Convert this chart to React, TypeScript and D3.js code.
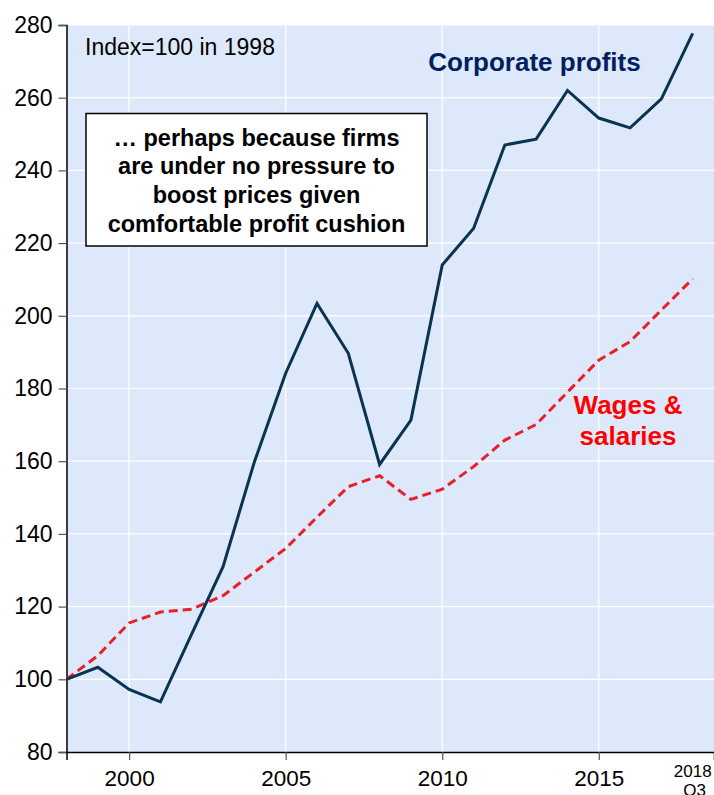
import { useRef, useEffect } from "react";
import { select, line, scaleLinear, axisBottom, axisLeft, range } from "d3";

const years = range(1998, 2019);
const profits = [
  100, 103.3, 97.2, 93.8, 112.5, 131, 159.8, 184.2, 203.4, 189.7, 159.1,
  171.3, 214, 224, 247, 248.6, 262, 254.4, 251.7, 259.7, 277.7,
];
const wages = [
  100, 106.5, 115.5, 118.5, 119.3, 123, 129.5, 136, 144.6, 153, 156,
  149.5, 152.3, 158.5, 165.8, 170.1, 179, 187.8, 192.9, 201.6, 210.2,
];
const yTicks = [80, 100, 120, 140, 160, 180, 200, 220, 240, 260, 280];
const xTicks = [2000, 2005, 2010, 2015];
const note = [
  "… perhaps because firms",
  "are under no pressure to",
  "boost prices given",
  "comfortable profit cushion",
];

const FONT = "Liberation Sans, Arial, sans-serif";

export default function App() {
  const ref = useRef<SVGSVGElement | null>(null);

  useEffect(() => {
    const svg = select(ref.current!);
    svg.selectAll("*").remove();

    const left = 66.5;
    const right = 714;
    const top = 25;
    const bottom = 752;

    const x = scaleLinear().domain([1998, 2018.68]).range([left, right]);
    const y = scaleLinear().domain([80, 280]).range([bottom, top]);

    // background
    svg
      .append("rect")
      .attr("x", left)
      .attr("y", top)
      .attr("width", right - left)
      .attr("height", bottom - top)
      .attr("fill", "#dde9fb");

    // grid
    svg
      .append("g")
      .selectAll("line")
      .data(yTicks.slice(1))
      .join("line")
      .attr("x1", left)
      .attr("x2", right)
      .attr("y1", (d) => y(d))
      .attr("y2", (d) => y(d))
      .attr("stroke", "#fff")
      .attr("stroke-width", 1.2);
    svg
      .append("g")
      .selectAll("line")
      .data(xTicks)
      .join("line")
      .attr("x1", (d) => x(d))
      .attr("x2", (d) => x(d))
      .attr("y1", top)
      .attr("y2", bottom)
      .attr("stroke", "#fff")
      .attr("stroke-width", 1.2);

    // axes
    const yAxis: any = axisLeft(y).tickValues(yTicks).tickSize(8).tickPadding(6);
    const gy = svg.append("g").attr("transform", `translate(${left},0)`).call(yAxis);
    gy.select(".domain").attr("stroke", "#000").attr("stroke-width", 1.5);
    gy.selectAll(".tick line").attr("stroke", "#555").attr("stroke-width", 1.2);
    gy.selectAll(".tick text")
      .attr("font-size", 23)
      .attr("font-family", FONT)
      .attr("fill", "#000");

    const xAxis: any = axisBottom(x)
      .tickValues(xTicks)
      .tickFormat((d: any) => String(d))
      .tickSize(8)
      .tickPadding(10);
    const gx = svg.append("g").attr("transform", `translate(0,${bottom})`).call(xAxis);
    gx.select(".domain").attr("stroke", "#000").attr("stroke-width", 1.5);
    gx.selectAll(".tick line").attr("stroke", "#555").attr("stroke-width", 1.2);
    gx.selectAll(".tick text")
      .attr("font-size", 22.5)
      .attr("font-family", FONT)
      .attr("fill", "#000");

    // last-quarter label under the final point
    const last = svg
      .append("text")
      .attr("text-anchor", "middle")
      .attr("font-size", 17)
      .attr("font-family", FONT)
      .attr("fill", "#000");
    last.append("tspan").attr("x", x(2018)).attr("y", 777).text("2018");
    last.append("tspan").attr("x", x(2018) + 2).attr("y", 796).text("Q3");

    // series
    const gen: any = line<number>()
      .x((_, i) => x(years[i]))
      .y((d) => y(d));

    svg
      .append("path")
      .attr("d", gen(wages))
      .attr("fill", "none")
      .attr("stroke", "#e8202a")
      .attr("stroke-width", 3)
      .attr("stroke-dasharray", "9,5");

    svg
      .append("path")
      .attr("d", gen(profits))
      .attr("fill", "none")
      .attr("stroke", "#0a3350")
      .attr("stroke-width", 3);

    // annotations
    svg
      .append("text")
      .attr("x", 85)
      .attr("y", 55)
      .attr("font-size", 23)
      .attr("font-family", FONT)
      .attr("fill", "#000")
      .text("Index=100 in 1998");

    svg
      .append("text")
      .attr("x", 534.5)
      .attr("y", 71)
      .attr("text-anchor", "middle")
      .attr("font-size", 26)
      .attr("font-weight", "bold")
      .attr("font-family", FONT)
      .attr("fill", "#002060")
      .text("Corporate profits");

    const ws = svg
      .append("text")
      .attr("text-anchor", "middle")
      .attr("font-size", 26)
      .attr("font-weight", "bold")
      .attr("font-family", FONT)
      .attr("fill", "#ff0000");
    ws.append("tspan").attr("x", 628).attr("y", 414).text("Wages &");
    ws.append("tspan").attr("x", 628).attr("y", 445).text("salaries");

    svg
      .append("rect")
      .attr("x", 86)
      .attr("y", 113.5)
      .attr("width", 341)
      .attr("height", 132.5)
      .attr("fill", "#fff")
      .attr("stroke", "#000")
      .attr("stroke-width", 1.5);

    svg
      .append("g")
      .selectAll("text")
      .data(note)
      .join("text")
      .attr("x", 256.5)
      .attr("y", (_, i) => 145.5 + i * 28.8)
      .attr("text-anchor", "middle")
      .attr("font-size", 23.5)
      .attr("font-weight", "bold")
      .attr("font-family", FONT)
      .attr("fill", "#000")
      .text((d) => d);
  }, []);

  return (
    <svg
      ref={ref}
      width={714}
      height={795}
      style={{ position: "absolute", left: 0, top: 0, background: "#fff" }}
    ></svg>
  );
}
